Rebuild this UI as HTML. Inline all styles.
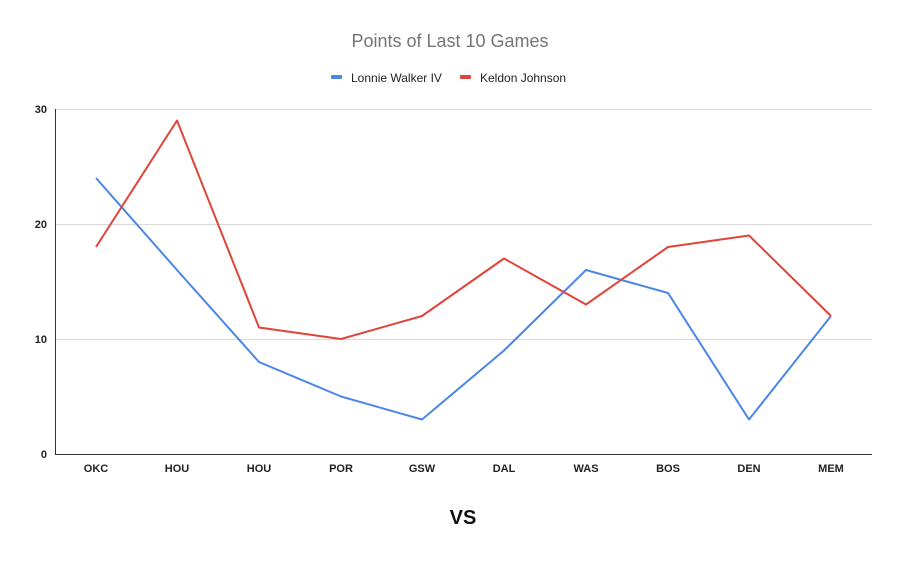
<!DOCTYPE html>
<html><head><style>body{margin:0;background:#fff}</style></head><body>
<svg width="900" height="556" xmlns="http://www.w3.org/2000/svg" font-family="Liberation Sans, Arial, sans-serif">
<rect width="900" height="556" fill="#fff"/>
<text x="450" y="47" text-anchor="middle" font-size="18" fill="#757575">Points of Last 10 Games</text>
<rect x="331" y="75" width="11" height="4" rx="1" fill="#4a86e8"/>
<text x="351" y="82" font-size="12" fill="#222">Lonnie Walker IV</text>
<rect x="460" y="75" width="11" height="4" rx="1" fill="#e0443a"/>
<text x="480" y="82" font-size="12" fill="#222">Keldon Johnson</text>
<g stroke="#d9d9d9" stroke-width="1">
<line x1="55" y1="109.5" x2="872" y2="109.5"/>
<line x1="55" y1="224.5" x2="872" y2="224.5"/>
<line x1="55" y1="339.5" x2="872" y2="339.5"/>
</g>
<line x1="55" y1="454.5" x2="872" y2="454.5" stroke="#333" stroke-width="1"/>
<line x1="55.5" y1="109" x2="55.5" y2="454" stroke="#333" stroke-width="1"/>
<g font-size="11" font-weight="bold" fill="#222" text-anchor="end">
<text x="47" y="113">30</text><text x="47" y="228">20</text><text x="47" y="343">10</text><text x="47" y="458">0</text>
</g>
<g font-size="11" font-weight="bold" fill="#222" text-anchor="middle">
<text x="96" y="472">OKC</text><text x="177" y="472">HOU</text><text x="259" y="472">HOU</text><text x="341" y="472">POR</text><text x="422" y="472">GSW</text><text x="504" y="472">DAL</text><text x="586" y="472">WAS</text><text x="668" y="472">BOS</text><text x="749" y="472">DEN</text><text x="831" y="472">MEM</text>
</g>
<polyline fill="none" stroke="#4a86e8" stroke-width="2" stroke-linejoin="round" points="96,178 177,270 259,362 341,396.5 422,419.5 504,350.5 586,270 668,293 749,419.5 831,316"/>
<polyline fill="none" stroke="#e0443a" stroke-width="2" stroke-linejoin="round" points="96,247 177,120.5 259,327.5 341,339 422,316 504,258.5 586,304.5 668,247 749,235.5 831,316"/>
<text x="463" y="524" text-anchor="middle" font-size="20" font-weight="bold" fill="#111">VS</text>
</svg>
</body></html>
